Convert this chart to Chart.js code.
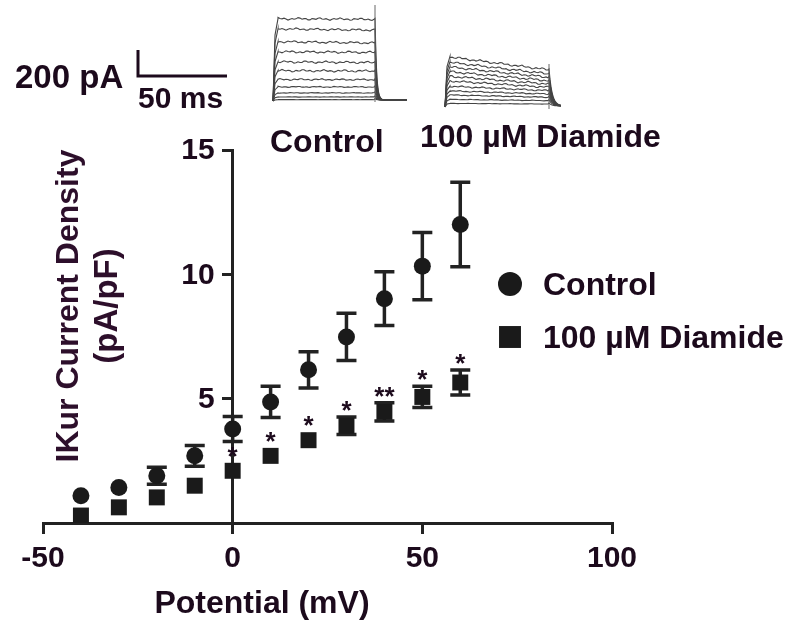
<!DOCTYPE html>
<html>
<head>
<meta charset="utf-8">
<script src="https://cdn.jsdelivr.net/npm/chart.js@4.4.1/dist/chart.umd.min.js"></script>
<style>
  html, body { margin: 0; padding: 0; background: #fff; }
</style>
</head>
<body>
<canvas id="ivChart" width="796" height="624"></canvas>
<script>
// I-V data
const potentials  = [-40, -30, -20, -10, 0, 10, 20, 30, 40, 50, 60];
const controlMean = [1.1, 1.43, 1.9, 2.7, 3.78, 4.87, 6.16, 7.48, 9.02, 10.33, 12.0];
const controlSem  = [0.15, 0.15, 0.34, 0.42, 0.5, 0.63, 0.73, 0.95, 1.08, 1.35, 1.7];
const diamideMean = [0.3, 0.63, 1.03, 1.5, 2.1, 2.7, 3.33, 3.91, 4.47, 5.07, 5.65];
const diamideSem  = [0.1, 0.1, 0.12, 0.15, 0.2, 0.2, 0.25, 0.35, 0.37, 0.43, 0.5];
const significance = ['', '', '', '', '*', '*', '*', '*', '**', '*', '*'];
const xTicks = [-50, 0, 50, 100];
const yTicks = [5, 10, 15];

// example current traces for the inset (pA)
const controlTracePeak = [610, 535, 440, 365, 290, 225, 160, 105, 60, 30, 10];
const controlTraceEnd  = [605, 525, 430, 360, 285, 222, 158, 104, 60, 30, 10];
const diamideTracePeak = [375, 335, 300, 265, 230, 195, 155, 120, 90, 57, 27];
const diamideTraceEnd  = [275, 245, 220, 195, 170, 146, 121, 96, 72, 47, 22];

const TEXT = '#1c0a1c';
const LINE = '#222';
const FONT = '"Liberation Sans", Arial, sans-serif';

function drawTraces(ctx, x0, x1, base, peak, end, tail, tailTau, pxPerPA) {
  ctx.save();
  ctx.strokeStyle = '#444';
  ctx.lineWidth = 1.1;
  peak.forEach((p, i) => {
    const a0 = p * pxPerPA, a1 = end[i] * pxPerPA;
    ctx.beginPath();
    ctx.moveTo(x0, base);
    ctx.lineTo(x0 + 2, base - a0 * 0.8);
    ctx.lineTo(x0 + 5, base - a0);
    for (let x = x0 + 5; x <= x1; x += 2) {
      const t = (x - x0) / (x1 - x0);
      const w = Math.sin(x * 0.9 + i * 1.7) * 0.7 + Math.sin(x * 0.31 + i) * 0.6;
      ctx.lineTo(x, base - (a0 + (a1 - a0) * t) + w * Math.min(1, a0 / 30));
    }
    for (let x = x1; x <= x1 + tail; x += 1) {
      ctx.lineTo(x, base - a1 * Math.exp(-(x - x1) / tailTau) - 1);
    }
    ctx.stroke();
  });
  ctx.restore();
}

const decorations = {
  id: 'decorations',
  afterDraw(chart) {
    const ctx = chart.ctx;
    const yScale = chart.scales.y;
    ctx.save();
    ctx.fillStyle = TEXT;

    // y tick labels, left of the axis drawn at x = 0
    ctx.font = 'bold 30px ' + FONT;
    ctx.textAlign = 'right';
    ctx.textBaseline = 'middle';
    const axisX = chart.scales.x.getPixelForValue(0);
    yScale.ticks.forEach(t => {
      ctx.fillText(String(t.value), axisX - 18, yScale.getPixelForValue(t.value) + 1);
    });

    ctx.textBaseline = 'alphabetic';
    // scale bar
    ctx.font = 'bold 33px ' + FONT;
    ctx.textAlign = 'left';
    ctx.fillText('200 pA', 15, 88);
    ctx.font = 'bold 30px ' + FONT;
    ctx.fillText('50 ms', 138, 108);
    ctx.strokeStyle = TEXT;
    ctx.lineWidth = 3;
    ctx.beginPath();
    ctx.moveTo(138, 50); ctx.lineTo(138, 76); ctx.lineTo(227, 76);
    ctx.stroke();

    // traces
    const pxPerPA = 27 / 200;
    drawTraces(ctx, 273, 375, 101, controlTracePeak, controlTraceEnd, 32, 1.5, pxPerPA);
    drawTraces(ctx, 445, 549, 107, diamideTracePeak, diamideTraceEnd, 12, 3, pxPerPA);
    ctx.strokeStyle = '#666';
    ctx.lineWidth = 1;
    ctx.beginPath();
    ctx.moveTo(375, 5); ctx.lineTo(375, 102);
    ctx.moveTo(549, 64); ctx.lineTo(549, 109);
    ctx.stroke();

    ctx.font = 'bold 32px ' + FONT;
    ctx.fillText('Control', 270, 152);
    ctx.fillText('100 \u00b5M Diamide', 420, 147);

    // axis titles
    ctx.textAlign = 'center';
    ctx.fillText('Potential (mV)', 262, 613);
    ctx.save();
    ctx.fillStyle = '#2d0f2b';
    ctx.translate(78, 306);
    ctx.rotate(-Math.PI / 2);
    ctx.fillText('IKur Current Density', 0, 0);
    ctx.font = 'bold 33px ' + FONT;
    ctx.fillText('(pA/pF)', 0, 39);
    ctx.restore();

    // legend
    chart.data.datasets.forEach((ds, i) => {
      const cy = 284 + i * 53;
      ctx.fillStyle = ds.backgroundColor;
      Chart.helpers.drawPoint(ctx, {pointStyle: ds.pointStyle, radius: i === 0 ? 12 : 15.5, borderWidth: 0}, 510, cy);
      ctx.fillStyle = TEXT;
      ctx.textAlign = 'left';
      ctx.font = 'bold 32px ' + FONT;
      ctx.fillText(ds.label, 543, cy + 11);
    });
    ctx.restore();
  }
};

const errorBars = {
  id: 'errorBars',
  beforeDatasetsDraw(chart) {
    const {ctx, scales: {x, y}} = chart;
    ctx.save();
    ctx.strokeStyle = LINE;
    ctx.lineWidth = 3.5;
    chart.data.datasets.forEach(ds => {
      ds.data.forEach((p, i) => {
        const px = x.getPixelForValue(p.x);
        const top = y.getPixelForValue(p.y + ds.sem[i]);
        const bot = y.getPixelForValue(p.y - ds.sem[i]);
        if (bot - top < 16) return; // hidden behind the marker
        ctx.beginPath();
        ctx.moveTo(px, top); ctx.lineTo(px, bot);
        ctx.moveTo(px - 10, top); ctx.lineTo(px + 10, top);
        ctx.moveTo(px - 10, bot); ctx.lineTo(px + 10, bot);
        ctx.stroke();
      });
    });
    ctx.restore();
  },
  afterDatasetsDraw(chart) {
    const {ctx, scales: {x, y}} = chart;
    ctx.save();
    ctx.fillStyle = TEXT;
    ctx.font = 'bold 26px ' + FONT;
    ctx.textAlign = 'center';
    ctx.textBaseline = 'alphabetic';
    significance.forEach((s, i) => {
      if (!s) return;
      const px = x.getPixelForValue(potentials[i]);
      const top = Math.min(y.getPixelForValue(diamideMean[i] + diamideSem[i]),
                           y.getPixelForValue(diamideMean[i]) - 8);
      ctx.fillText(s, px, top + 2);
    });
    ctx.restore();
  }
};

const tickFont = {family: FONT, size: 30, weight: 'bold'};

new Chart(document.getElementById('ivChart'), {
  type: 'scatter',
  data: {
    datasets: [
      {
        label: 'Control',
        data: potentials.map((v, i) => ({x: v, y: controlMean[i]})),
        sem: controlSem,
        pointStyle: 'circle',
        pointRadius: 8.5,
        backgroundColor: '#1a1a1a',
        borderWidth: 0
      },
      {
        label: '100 \u00b5M Diamide',
        data: potentials.map((v, i) => ({x: v, y: diamideMean[i]})),
        sem: diamideSem,
        pointStyle: 'rect',
        pointRadius: 11.3,
        backgroundColor: '#1a1a1a',
        borderWidth: 0
      }
    ]
  },
  options: {
    responsive: false,
    animation: false,
    layout: {padding: {left: 43, right: 184, top: 150, bottom: 41}},
    plugins: {legend: {display: false}, tooltip: {enabled: false}},
    scales: {
      x: {
        type: 'linear', min: -50, max: 100, position: 'bottom',
        afterBuildTicks: s => { s.ticks = xTicks.map(v => ({value: v})); },
        afterFit: s => { s.height = 60; },
        border: {display: true, color: LINE, width: 3},
        grid: {drawOnChartArea: false, drawTicks: true, tickLength: 11, color: LINE, lineWidth: 3},
        ticks: {font: tickFont, color: TEXT, padding: 7, maxRotation: 0, autoSkip: false}
      },
      y: {
        type: 'linear', min: 0, max: 15, position: {x: 0},
        afterBuildTicks: s => { s.ticks = yTicks.map(v => ({value: v})); },
        border: {display: true, color: LINE, width: 3},
        grid: {drawOnChartArea: false, drawTicks: true, tickLength: 9, color: LINE, lineWidth: 3},
        ticks: {display: false}
      }
    }
  },
  plugins: [errorBars, decorations]
});
</script>
</body>
</html>
